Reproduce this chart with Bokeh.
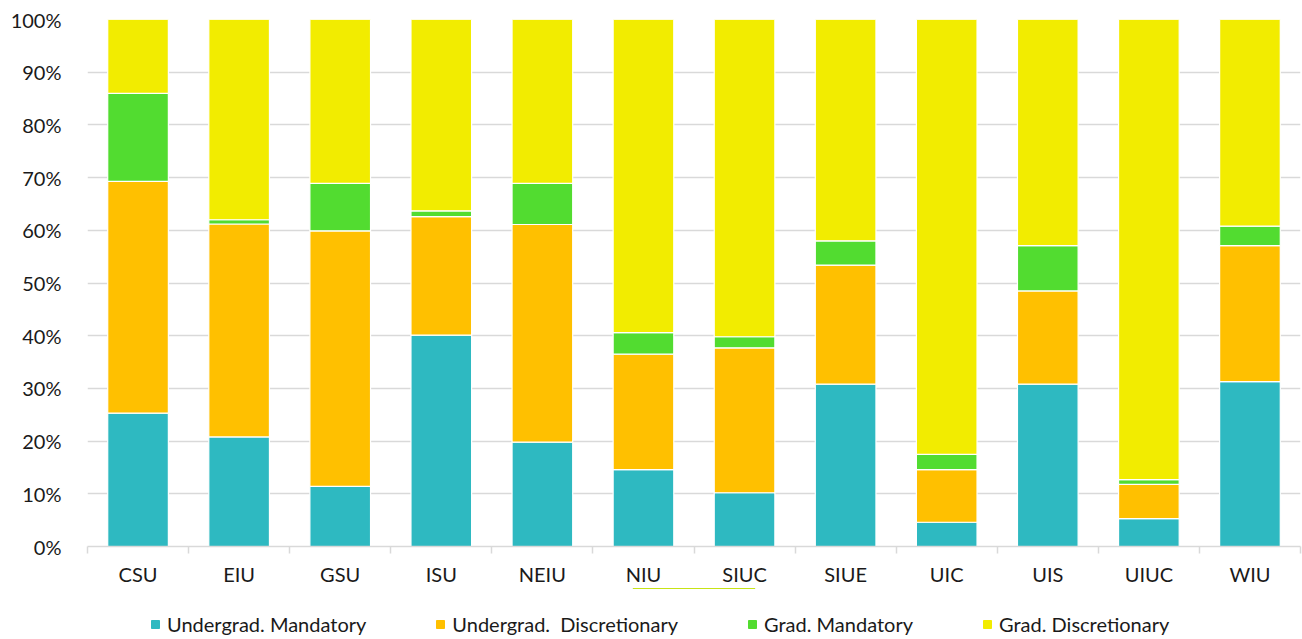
from bokeh.plotting import figure
from bokeh.layouts import column
from bokeh.models import Range1d, FixedTicker, PrintfTickFormatter, Legend, LegendItem, ColumnDataSource
from bokeh.embed import file_html
from bokeh.resources import INLINE

universities = ["CSU", "EIU", "GSU", "ISU", "NEIU", "NIU", "SIUC", "SIUE", "UIC", "UIS", "UIUC", "WIU"]
undergrad_mandatory = [25.3, 20.8, 11.4, 40.1, 19.8, 14.6, 10.2, 30.8, 4.6, 30.8, 5.3, 31.3]
undergrad_discretionary = [44.0, 40.4, 48.5, 22.5, 41.3, 21.9, 27.5, 22.6, 10.0, 17.7, 6.5, 25.8]
grad_mandatory = [16.7, 0.8, 9.0, 1.1, 7.8, 4.1, 2.1, 4.6, 2.9, 8.6, 0.9, 3.7]
grad_discretionary = [14.0, 38.0, 31.1, 36.3, 31.1, 59.4, 60.2, 42.0, 82.5, 42.9, 87.3, 39.2]
series_names = ["Undergrad. Mandatory", "Undergrad.  Discretionary", "Grad. Mandatory", "Grad. Discretionary"]
colors = ["#2EB9C1", "#FFC000", "#52DC30", "#F2EC00"]

FONT = "Lato"
FS = "20px"
TXT = "#1a1a1a"

xpos = list(range(1, len(universities) + 1))
src = ColumnDataSource(dict(x=xpos, um=undergrad_mandatory, ud=undergrad_discretionary,
                            gm=grad_mandatory, gd=grad_discretionary))

p = figure(frame_width=1213, frame_height=527, output_backend="svg", toolbar_location=None,
           x_range=Range1d(0.5, len(universities) + 0.5), y_range=Range1d(0, 100),
           min_border_left=87, min_border_right=2, min_border_top=19, min_border_bottom=39)
p.outline_line_color = None
p.background_fill_color = "white"
p.border_fill_color = "white"

renderers = p.vbar_stack(["um", "ud", "gm", "gd"], x="x", width=0.6, source=src,
                         color=colors, line_color="white", line_width=1.2)

# y axis
p.yaxis.ticker = FixedTicker(ticks=list(range(0, 101, 10)))
p.yaxis.formatter = PrintfTickFormatter(format="%d%%")
p.yaxis.axis_line_color = None
p.yaxis.major_tick_line_color = None
p.yaxis.minor_tick_line_color = None
p.yaxis.major_label_standoff = 20
p.yaxis.major_label_text_font = FONT
p.yaxis.major_label_text_font_size = FS
p.yaxis.major_label_text_color = TXT

# x axis
p.xaxis.ticker = FixedTicker(ticks=xpos, minor_ticks=[i + 0.5 for i in range(0, len(universities) + 1)])
p.xaxis.major_label_overrides = {i: n for i, n in zip(xpos, universities)}
p.xaxis.axis_line_color = "#d9d9d9"
p.xaxis.axis_line_width = 1.5
p.xaxis.major_tick_line_color = None
p.xaxis.major_tick_out = 0
p.xaxis.major_tick_in = 0
p.xaxis.minor_tick_line_color = "#d9d9d9"
p.xaxis.minor_tick_line_width = 1.5
p.xaxis.minor_tick_out = 7
p.xaxis.minor_tick_in = 0
p.xaxis.major_label_standoff = 8
p.xaxis.major_label_text_font = FONT
p.xaxis.major_label_text_font_size = FS
p.xaxis.major_label_text_color = TXT

p.xgrid.grid_line_color = None
p.ygrid.grid_line_color = "#d9d9d9"
p.ygrid.grid_line_width = 1.5

# legend strip below the chart (swatch glyphs sit above the visible range)
lf = figure(width=1302, height=54, output_backend="svg", toolbar_location=None,
            x_range=Range1d(0, 1), y_range=Range1d(0, 1),
            x_axis_location=None, y_axis_location=None,
            min_border_left=87, min_border_right=2, min_border_top=0, min_border_bottom=0)
lf.outline_line_color = None
lf.background_fill_color = "white"
lf.border_fill_color = "white"
lf.xgrid.grid_line_color = None
lf.ygrid.grid_line_color = None
swatches = [lf.vbar(x=[0.5], bottom=[5], top=[6], width=0.1, color=c) for c in colors]
legend = Legend(items=[LegendItem(label=n, renderers=[r]) for n, r in zip(series_names, swatches)],
                orientation="horizontal", location=(63, 6),
                glyph_width=10, glyph_height=10, label_standoff=7, spacing=69,
                label_text_font=FONT, label_text_font_size=FS, label_text_color=TXT,
                border_line_color=None, background_fill_alpha=0, padding=0, margin=0)
lf.add_layout(legend, "center")

layout = column(p, lf, spacing=0)
open("out.html", "w").write(file_html(layout, INLINE))
